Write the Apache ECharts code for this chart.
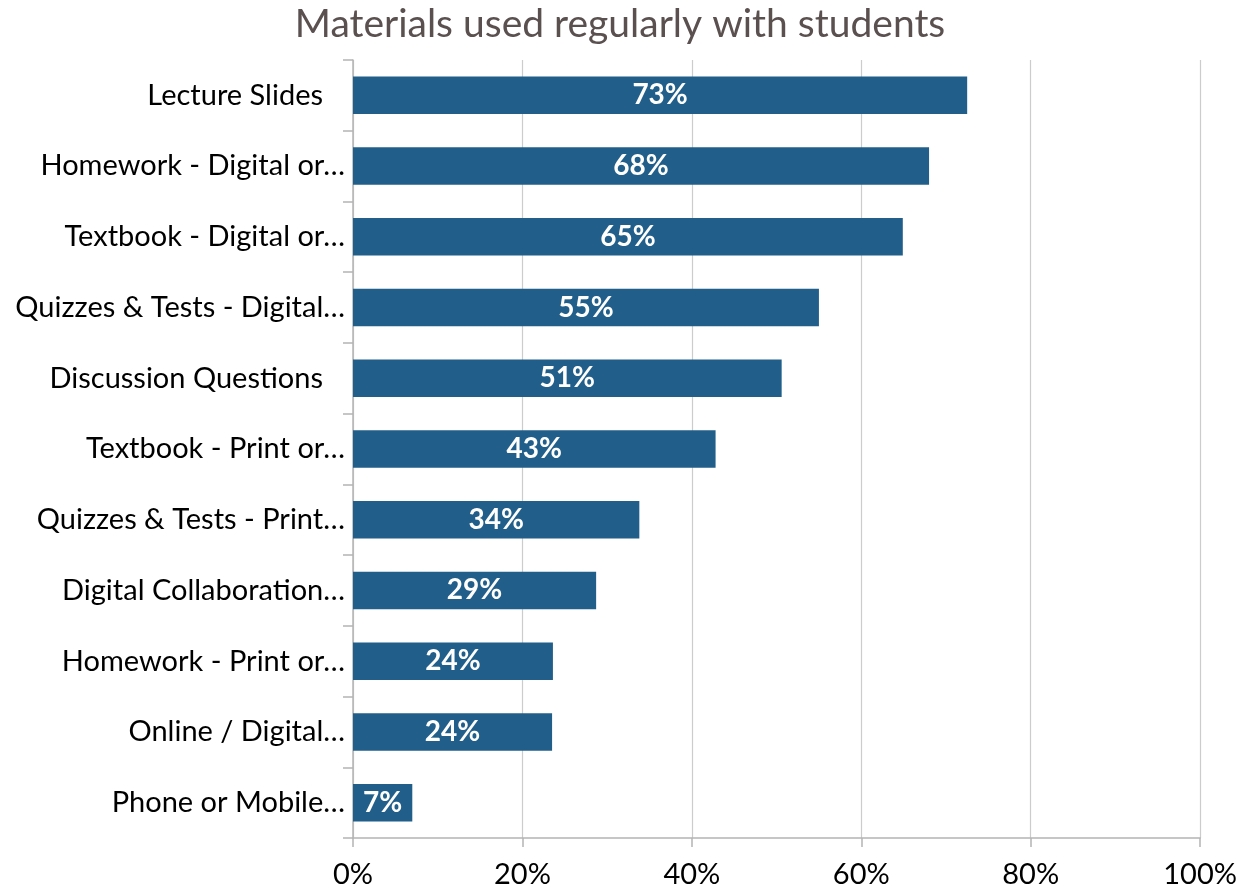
<!DOCTYPE html>
<html>
<head>
<meta charset="utf-8">
<script src="https://cdn.jsdelivr.net/npm/echarts@6/dist/echarts.min.js"></script>
<style>html,body{margin:0;padding:0;background:#fff}#c{width:1240px;height:891px}</style>
</head>
<body>
<div id="c"></div>
<script>
const categories = [
  "Lecture Slides",
  "Homework - Digital or…",
  "Textbook - Digital or…",
  "Quizzes & Tests - Digital…",
  "Discussion Questions",
  "Textbook - Print or…",
  "Quizzes & Tests - Print…",
  "Digital Collaboration…",
  "Homework - Print or…",
  "Online / Digital…",
  "Phone or Mobile…"
];
const values = [72.5, 68.0, 64.9, 55.0, 50.6, 42.8, 33.8, 28.7, 23.6, 23.5, 7.0];
const xTicks = [0, 20, 40, 60, 80, 100];
const titleText = "Materials used regularly with students";

const chart = echarts.init(document.getElementById('c'));
chart.setOption({
  backgroundColor: '#ffffff',
  animation: false,
  title: {
    text: titleText,
    left: 'center',
    top: 0,
    textStyle: { fontFamily: 'Lato', fontWeight: 'normal', fontSize: 39, color: '#5b5050' }
  },
  grid: { left: 353, right: 36, top: 60, bottom: 53, containLabel: false },
  xAxis: {
    type: 'value',
    min: xTicks[0],
    max: xTicks[xTicks.length - 1],
    interval: 20,
    axisLine: { show: true, lineStyle: { color: '#b4b4b4', width: 1.5 } },
    axisTick: { show: true, length: 9, lineStyle: { color: '#b4b4b4', width: 1.5 } },
    splitLine: { show: true, lineStyle: { color: '#cccccc', width: 1.2 } },
    axisLabel: { formatter: v => v + '%', fontFamily: 'Lato', fontSize: 29, color: '#000', margin: 22 }
  },
  yAxis: {
    type: 'category',
    data: categories,
    inverse: true,
    axisLine: { show: true, lineStyle: { color: '#b4b4b4', width: 1.5 } },
    axisTick: { show: true, length: 10, lineStyle: { color: '#b4b4b4', width: 1.5 } },
    axisLabel: {
      fontFamily: 'Lato', fontSize: 29, color: '#000', margin: 8,
      formatter: v => v.endsWith('…') ? v : '{p|' + v + '}',
      rich: { p: { fontFamily: 'Lato', fontSize: 29, color: '#000', padding: [0, 22, 0, 0] } }
    }
  },
  series: [{
    type: 'bar',
    data: values,
    barCategoryGap: '47%',
    itemStyle: { color: '#215f8a' },
    label: {
      show: true,
      position: 'inside',
      formatter: p => Math.round(p.value) + '%',
      fontFamily: 'Lato',
      fontWeight: 'bold',
      fontSize: 28,
      color: '#ffffff'
    }
  }]
});
</script>
</body>
</html>
